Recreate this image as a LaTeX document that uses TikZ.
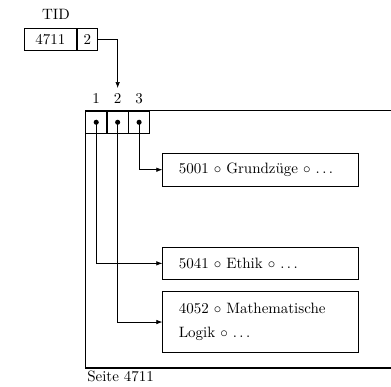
\documentclass[tikz,border=0pt]{standalone}
\usepackage{tikz}
\usetikzlibrary{positioning,arrows.meta,calc}

\begin{document}
\begin{tikzpicture}[
  x=0.667pt, y=-0.667pt,
  cell/.style={draw, line width=0.7pt, minimum height=14.5pt, inner sep=0pt},
  slot/.style={draw, thin, minimum width=13.9pt, minimum height=15.3pt, inner sep=0pt},
  rec/.style={draw, line width=0.7pt, anchor=north west, align=left, text width=109.3pt, inner xsep=10.7pt, inner ysep=0pt},
  arr/.style={-{Latex[length=4pt,width=3pt]}, thin},
  dot/.style={circle, fill, inner sep=0pt, minimum size=3.4pt}
]
\useasboundingbox (0,0) rectangle (391,387);

% tuple identifier
\node[cell, minimum width=34.5pt, anchor=north west] (tidpage) at (24,28.3) {4711};
\node[cell, minimum width=13.3pt, right=0pt of tidpage] (tidslot) {2};
\node (tid) at (56,14) {TID};

% page with slot directory
\coordinate (pagene) at (391,110.5);
\coordinate (pagenw) at (85.5,110.5);
\coordinate (pagesw) at (85.5,368);
\coordinate (pagese) at (391,368);
\draw[line width=0.7pt] (pagene) -- (pagenw) -- (pagesw) -- (pagese);
\node[slot, anchor=north west] (s1) at (pagenw) {};
\node[slot, right=0pt of s1] (s2) {};
\node[slot, right=0pt of s2] (s3) {};
\foreach \i in {1,2,3} {
  \node[dot] (d\i) at (s\i.center) {};
  \node[above=1pt of s\i] (n\i) {\i};
}
\node[anchor=north west, inner xsep=1pt, inner ysep=2pt] (seite) at (pagesw) {Seite 4711};

% records
\node[rec, minimum height=22pt] (r1) at (162.3,152.7) {5001 $\circ$ Grundzüge $\circ$ $\ldots$};
\node[rec, minimum height=21.5pt] (r2) at (162.3,246.7) {5041 $\circ$ Ethik $\circ$ $\ldots$};
\node[rec, minimum height=40.7pt] (r3) at (162.3,291) {4052 $\circ$ Mathematische\\[4pt] Logik $\circ$ $\ldots$};

\draw[arr] (tidslot.east) -| ([yshift=15pt]s2.north);
\draw[arr] (d3.center) |- (r1.west);
\draw[arr] (d1.center) |- (r2.west);
\draw[arr] (d2.center) |- (r3.west);
\end{tikzpicture}
\end{document}
